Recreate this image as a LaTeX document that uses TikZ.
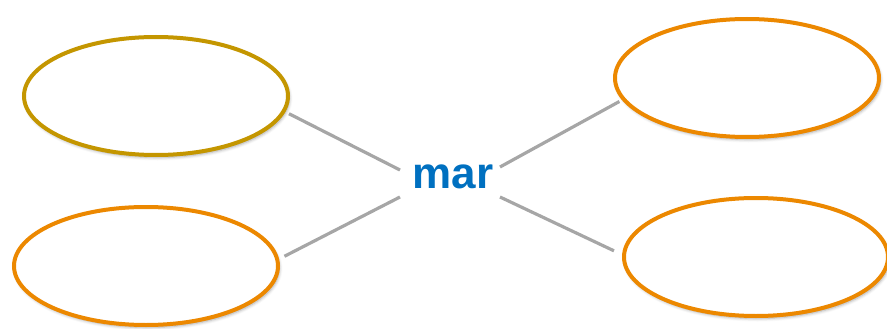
\documentclass[tikz,border=0pt]{standalone}
\usepackage{fontspec}
\setmainfont{Liberation Sans}
\usetikzlibrary{shapes.geometric,shadows.blur}
\definecolor{goldring}{RGB}{196,150,0}
\definecolor{orangering}{RGB}{236,136,0}
\definecolor{hubblue}{RGB}{0,112,192}
\definecolor{spokegray}{RGB}{166,166,166}
\begin{document}
\begin{tikzpicture}[x=1pt,y=1pt,
  ring/.style={ellipse,draw=#1,line width=4pt,fill=white,inner sep=0pt,
    minimum width=264pt,minimum height=118pt,
    blur shadow={shadow xshift=1.5pt,shadow yshift=-2.5pt,
      shadow blur radius=3pt,shadow opacity=35}},
  spoke/.style={draw=spokegray,line width=3.2pt},
  hub/.style={text=hubblue,font=\fontsize{44}{48}\selectfont\bfseries,inner sep=0pt}]
  \useasboundingbox (0,0) rectangle (887,-329);
  % four ellipses around the central word
  \node[ring=goldring]   (tl) at (156,-96)  {};
  \node[ring=orangering] (bl) at (146,-266) {};
  \node[ring=orangering] (tr) at (747,-78)  {};
  \node[ring=orangering] (br) at (756,-257) {};
  % central word
  \node[hub] (mar) at (453,-177) {mar};
  % spoke ends next to the word
  \coordinate (hnw) at (400,-170);
  \coordinate (hsw) at (400,-197);
  \coordinate (hne) at (500,-167);
  \coordinate (hse) at (500,-197);
  % spokes, each stopping a little short of its ellipse
  \draw[spoke,shorten <=4pt] (tl.-7)  -- (hnw);
  \draw[spoke,shorten <=6pt] (bl.3)   -- (hsw);
  \draw[spoke,shorten <=3pt] (tr.190) -- (hne);
  \draw[spoke,shorten <=9pt] (br.179) -- (hse);
\end{tikzpicture}
\end{document}
